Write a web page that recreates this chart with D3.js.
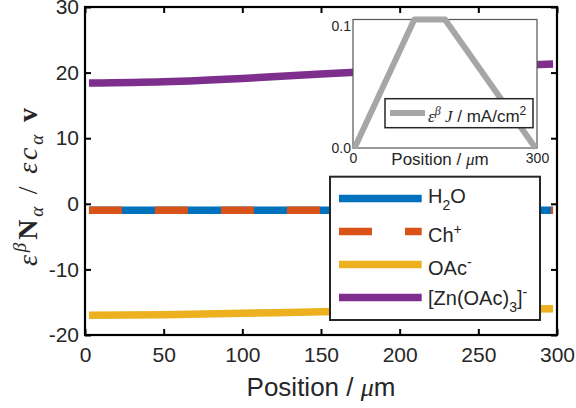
<!DOCTYPE html>
<html>
<head>
<meta charset="utf-8">
<script src="https://cdn.jsdelivr.net/npm/d3@7"></script>
<style>
  body { margin: 0; background: #fff; }
  text { font-family: "Liberation Sans", Arial, sans-serif; fill: #262626; }
  .tex { font-family: "Liberation Serif", "DejaVu Serif", serif; }
</style>
</head>
<body>
<div id="fluxChart"></div>
<script>
// values (positions in um)
const positions = [2.5, 50, 100, 150, 200, 250, 297.5];
const fluxH2O = [-1.0, -1.0, -1.0, -1.0, -1.0, -1.0, -1.0];
const fluxCh = [-1.0, -1.0, -1.0, -1.0, -1.0, -1.0, -1.0];
const fluxOAc = [-17.0, -16.9, -16.7, -16.45, -16.25, -16.1, -16.0];
const fluxZn = [18.4, 18.6, 19.1, 19.8, 20.4, 20.9, 21.3];

// legend labels, split into [text, "sub"|"sup"|""] pieces
const seriesLabels = [
  [["H", ""], ["2", "sub"], ["O", ""]],
  [["Ch", ""], ["+", "sup"]],
  [["OAc", ""], ["-", "sup"]],
  [["[Zn(OAc)", ""], ["3", "sub"], ["]", ""], ["-", "sup"]]
];
const seriesColors = ["#0072BD", "#D95319", "#EDB120", "#7E2F8E"];

const xTicks = [0, 50, 100, 150, 200, 250, 300];
const yTicks = [-20, -10, 0, 10, 20, 30];

// inset: current density
const insetPositions = [2.5, 100, 150, 297.5];
const insetCurrent = [0, 0.105, 0.105, 0];
const insetXTicks = [0, 300];
const insetYTicks = [0, 0.1];

// set the dimensions and margins of the graph
const margin = {top: 7, right: 19, bottom: 73, left: 85},
    width = 576 - margin.left - margin.right,
    height = 408 - margin.top - margin.bottom;

const svgRoot = d3.select("#fluxChart")
  .append("svg")
    .attr("width", 576)
    .attr("height", 408);

const svg = svgRoot.append("g")
    .attr("transform", `translate(${margin.left},${margin.top})`);

const x = d3.scaleLinear().domain([0, 300]).range([0, width]);
const y = d3.scaleLinear().domain([-20, 30]).range([height, 0]);

// the lines
const allSeries = [fluxH2O, fluxCh, fluxOAc, fluxZn];
const line = d3.line()
  .curve(d3.curveMonotoneX)
  .x(d => x(d[0]))
  .y(d => y(d[1]));

allSeries.forEach((vals, i) => {
  svg.append("path")
    .datum(positions.map((p, j) => [p, vals[j]]))
    .attr("fill", "none")
    .attr("stroke", seriesColors[i])
    .attr("stroke-width", 7.5)
    .attr("stroke-dasharray", i === 1 ? "33,33" : null)
    .attr("d", line);
});

// axes
const plainNum = d => String(d);   // hyphen minus like the original
const styleAxis = g => {
  g.select(".domain").remove();
  g.selectAll(".tick line").attr("stroke", "#000").attr("stroke-width", 2);
  g.selectAll("text").attr("fill", "#262626").style("font-size", "21px")
    .style("font-family", '"Liberation Sans", Arial, sans-serif');
};

svg.append("g")
  .attr("transform", `translate(0,${height})`)
  .call(d3.axisBottom(x).tickValues(xTicks).tickFormat(plainNum).tickSizeInner(-6).tickSizeOuter(0).tickPadding(12))
  .call(styleAxis);
svg.append("g")
  .call(d3.axisLeft(y).tickValues(yTicks).tickFormat(plainNum).tickSizeInner(-6).tickSizeOuter(0).tickPadding(6))
  .call(styleAxis);
svg.append("g")
  .call(d3.axisTop(x).tickValues(xTicks).tickSizeInner(-6).tickSizeOuter(0).tickFormat(""))
  .call(styleAxis);
svg.append("g")
  .attr("transform", `translate(${width},0)`)
  .call(d3.axisRight(y).tickValues(yTicks).tickSizeInner(-6).tickSizeOuter(0).tickFormat(""))
  .call(styleAxis);

svg.append("rect")
  .attr("width", width).attr("height", height)
  .attr("fill", "none").attr("stroke", "#000").attr("stroke-width", 2.2);

// x label
const xLab = svgRoot.append("text")
  .attr("x", margin.left + width / 2)
  .attr("y", 396)
  .attr("text-anchor", "middle")
  .style("font-size", "26px");
xLab.append("tspan").text("Position / ");
xLab.append("tspan").attr("class", "tex").style("font-style", "italic").text("μ");
xLab.append("tspan").text("m");

// y label (TeX-like)
const yLab = svgRoot.append("text")
  .attr("class", "tex")
  .attr("transform", "translate(37,187) rotate(-90)")
  .attr("text-anchor", "middle")
  .attr("textLength", 158)
  .attr("lengthAdjust", "spacing")
  .style("font-size", "28px");
yLab.append("tspan").style("font-style", "italic").text("ε");
yLab.append("tspan").style("font-style", "italic").style("font-size", "19px").attr("dy", -11).text("β");
yLab.append("tspan").style("font-weight", "bold").attr("dy", 11).text("N");
yLab.append("tspan").style("font-style", "italic").style("font-size", "19px").attr("dy", 6).text("α");
yLab.append("tspan").attr("dy", -6).text("  /  ");
yLab.append("tspan").style("font-style", "italic").text("εc");
yLab.append("tspan").style("font-style", "italic").style("font-size", "19px").attr("dy", 6).text("α");
yLab.append("tspan").style("font-weight", "bold").attr("dy", -6).text(" v");

// inset axes
const inset = {left: 353, top: 19.5, width: 184, height: 128.5};
const xi = d3.scaleLinear().domain([0, 300]).range([0, inset.width]);
const yi = d3.scaleLinear().domain([0, 0.105]).range([inset.height, 0]);

const gIn = svgRoot.append("g")
  .attr("transform", `translate(${inset.left},${inset.top})`);

gIn.append("rect")
  .attr("width", inset.width).attr("height", inset.height)
  .attr("fill", "#fff").attr("stroke", "#555").attr("stroke-width", 1.2);

gIn.append("path")
  .datum(insetPositions.map((p, j) => [p, insetCurrent[j]]))
  .attr("fill", "none")
  .attr("stroke", "#A6A6A6")
  .attr("stroke-width", 6)
  .attr("stroke-linejoin", "round")
  .attr("d", d3.line().x(d => xi(d[0])).y(d => yi(d[1])));

const styleInsetAxis = g => {
  g.select(".domain").remove();
  g.selectAll(".tick line").remove();
  g.selectAll("text").attr("fill", "#262626").style("font-size", "14px");
};
gIn.append("g")
  .attr("transform", `translate(0,${inset.height})`)
  .call(d3.axisBottom(xi).tickValues(insetXTicks).tickSize(0).tickPadding(5))
  .call(styleInsetAxis);
gIn.append("g")
  .call(d3.axisLeft(yi).tickValues(insetYTicks).tickSize(0).tickPadding(2).tickFormat(d3.format(".1f")))
  .call(styleInsetAxis);

const xiLab = gIn.append("text")
  .attr("x", 87).attr("y", 145)
  .attr("text-anchor", "middle")
  .style("font-size", "17px");
xiLab.append("tspan").text("Position / ");
xiLab.append("tspan").attr("class", "tex").style("font-style", "italic").text("μ");
xiLab.append("tspan").text("m");

// inset legend
gIn.append("rect")
  .attr("x", 32).attr("y", 79.2).attr("width", 148).attr("height", 29)
  .attr("fill", "#fff").attr("stroke", "#262626").attr("stroke-width", 1.5);
gIn.append("line")
  .attr("x1", 37).attr("x2", 72).attr("y1", 93.5).attr("y2", 93.5)
  .attr("stroke", "#A6A6A6").attr("stroke-width", 6);
const iLeg = gIn.append("text").attr("x", 75).attr("y", 102).style("font-size", "17px");
iLeg.append("tspan").attr("class", "tex").style("font-style", "italic").text("ε");
iLeg.append("tspan").attr("class", "tex").style("font-style", "italic").style("font-size", "12px").attr("dy", -7).text("β");
iLeg.append("tspan").attr("class", "tex").style("font-style", "italic").attr("dy", 7).text(" J");
iLeg.append("tspan").text(" / mA/cm");
iLeg.append("tspan").style("font-size", "12px").attr("dy", -7).text("2");

// main legend
const leg = svg.append("g");
leg.append("rect")
  .attr("x", 245).attr("y", 169.7).attr("width", 210).attr("height", 143.3)
  .attr("fill", "#fff").attr("stroke", "#262626").attr("stroke-width", 2);

seriesLabels.forEach((parts, i) => {
  const ly = 191.5 + i * 33;
  leg.append("line")
    .attr("x1", 254).attr("x2", 336.7).attr("y1", ly).attr("y2", ly)
    .attr("stroke", seriesColors[i]).attr("stroke-width", 7.5)
    .attr("stroke-dasharray", i === 1 ? "33,33" : null);
  const hasSub = parts.some(p => p[1] === "sub"), hasSup = parts.some(p => p[1] === "sup");
  const t = leg.append("text")
    .attr("x", 343)
    .attr("y", ly + 7.5 + (hasSup ? 3 : 0) - (hasSub ? 3 : 0))
    .style("font-size", "20px");
  let shift = 0;
  parts.forEach(p => {
    const target = p[1] === "sub" ? 7 : p[1] === "sup" ? -8 : 0;
    t.append("tspan")
      .attr("dy", target - shift)
      .style("font-size", p[1] ? "14px" : null)
      .text(p[0]);
    shift = target;
  });
});
</script>
</body>
</html>
